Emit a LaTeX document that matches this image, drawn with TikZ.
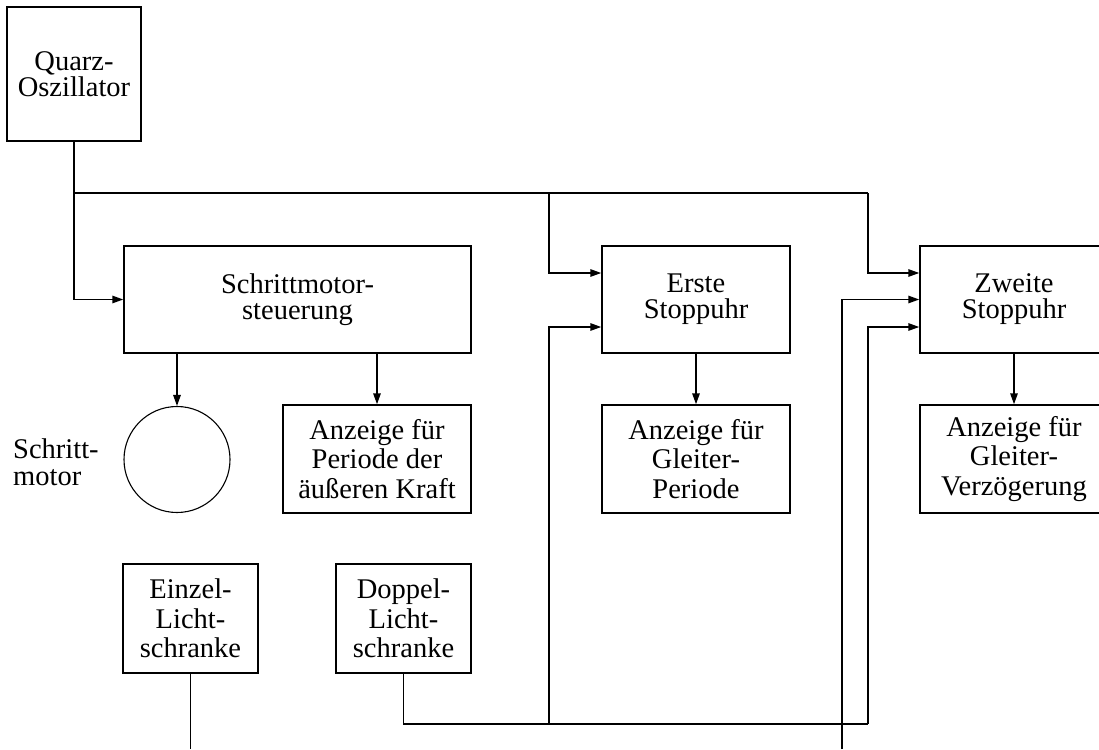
\documentclass[tikz,border=0pt]{standalone}
\usepackage{fontspec}
\setmainfont{Liberation Serif}
\usetikzlibrary{arrows.meta}
\begin{document}
\begin{tikzpicture}[x=1pt,y=-1pt,
  box/.style={draw, line width=1.5pt, inner sep=0pt, align=center,
    font=\fontsize{28.5}{26}\selectfont},
  boxiii/.style={box, font=\fontsize{28.5}{29.5}\selectfont},
  lbl/.style={inner sep=0pt, align=left, font=\fontsize{28.5}{27}\selectfont},
  conn/.style={line width=1.5pt},
  arr/.style={conn, -{Triangle[length=11pt,width=7.5pt]}}]
\useasboundingbox (0,0) rectangle (1099,749);
\clip (0,0) rectangle (1099,749);
% nodes
\node[box, minimum width=134, minimum height=134] (quarz) at (74,74) {Quarz-\\Oszillator};
\node[box, minimum width=347, minimum height=107] (schritt) at (297.5,299.5) {Schrittmotor-\\steuerung};
\node[box, minimum width=188, minimum height=107] (erste) at (696,299.5) {Erste\\Stoppuhr};
\node[box, minimum width=188, minimum height=107] (zweite) at (1014,299.5) {Zweite\\Stoppuhr};
\node[draw, circle, line width=1.1pt, minimum size=106, inner sep=0pt] (motor) at (177,459.5) {};
\node[lbl, anchor=west] (motorlbl) at (13,462) {Schritt-\\motor};
\node[boxiii, minimum width=188, minimum height=108] (anzP) at (377,459) {Anzeige für\\Periode der\\äußeren Kraft};
\node[boxiii, minimum width=188, minimum height=108] (anzG) at (696,459) {Anzeige für\\Gleiter-\\Periode};
\node[boxiii, minimum width=188, minimum height=108] (anzV) at (1014,459) {Anzeige für\\Gleiter-\\Verzögerung};
\node[boxiii, minimum width=135, minimum height=109] (einzel) at (190.5,618.5) {Einzel-\\Licht-\\schranke};
\node[boxiii, minimum width=135, minimum height=109] (doppel) at (403.5,618.5) {Doppel-\\Licht-\\schranke};
% junction coordinates
\coordinate (bus0) at (quarz.south |- 0,193);
\coordinate (bus1) at (549,193);
\coordinate (bus2) at (868,193);
\coordinate (dj1) at (549,724);
\coordinate (dj2) at (868,724);
\coordinate (einzelend) at (einzel.south |- 0,749);
\coordinate (extend) at (842,749);
% connectors
\draw[arr] (quarz.south) |- (schritt.west);
\draw[conn] (bus0) -- (bus2);
\draw[arr] (bus1) |- (erste.west |- 0,273);
\draw[arr] (bus2) |- (zweite.west |- 0,273);
\draw[arr] (schritt.south -| motor.north) -- (motor.north);
\draw[arr] (schritt.south -| anzP.north) -- (anzP.north);
\draw[arr] (erste.south) -- (anzG.north);
\draw[arr] (zweite.south) -- (anzV.north);
\draw[conn] (einzel.south) -- (einzelend);
\draw[conn] (doppel.south) |- (dj2);
\draw[arr] (dj1) |- (erste.west |- 0,327);
\draw[arr] (dj2) |- (zweite.west |- 0,327);
\draw[arr] (extend) |- (zweite.west);
\end{tikzpicture}
\end{document}
